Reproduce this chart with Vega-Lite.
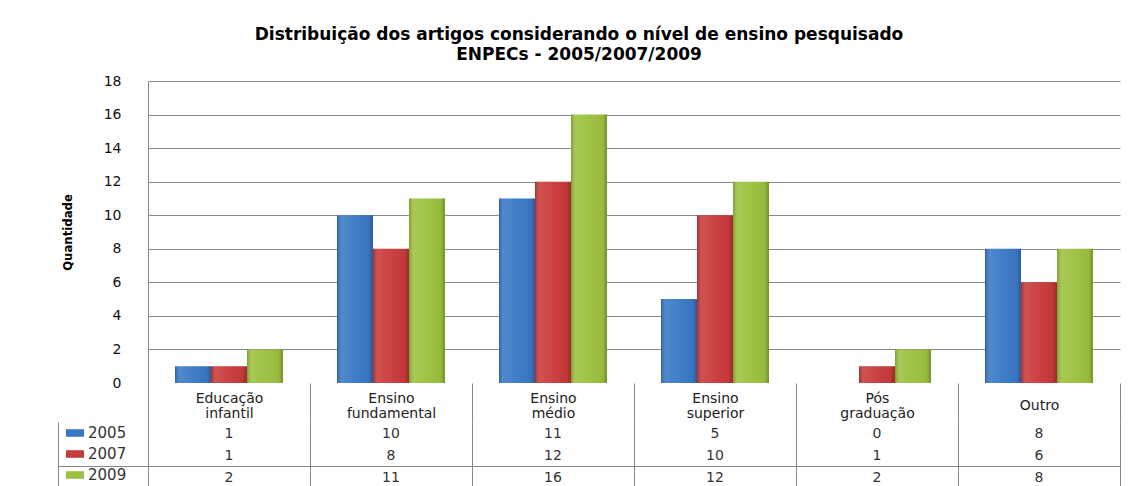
{
  "$schema": "https://vega.github.io/schema/vega-lite/v6.json",
  "background": "white",
  "padding": {"left": 57, "top": 26, "right": 12, "bottom": 0},
  "title": {
    "text": ["Distribuição dos artigos considerando o nível de ensino pesquisado", "ENPECs - 2005/2007/2009"],
    "font": "DejaVu Sans",
    "fontSize": 17,
    "fontWeight": "bold",
    "color": "#000000",
    "anchor": "middle",
    "dx": -10,
    "lineHeight": 20,
    "offset": 10
  },
  "datasets": {
    "d": [
      {"cat": "Educação infantil", "year": "2005", "value": 1},
      {"cat": "Educação infantil", "year": "2007", "value": 1},
      {"cat": "Educação infantil", "year": "2009", "value": 2},
      {"cat": "Ensino fundamental", "year": "2005", "value": 10},
      {"cat": "Ensino fundamental", "year": "2007", "value": 8},
      {"cat": "Ensino fundamental", "year": "2009", "value": 11},
      {"cat": "Ensino médio", "year": "2005", "value": 11},
      {"cat": "Ensino médio", "year": "2007", "value": 12},
      {"cat": "Ensino médio", "year": "2009", "value": 16},
      {"cat": "Ensino superior", "year": "2005", "value": 5},
      {"cat": "Ensino superior", "year": "2007", "value": 10},
      {"cat": "Ensino superior", "year": "2009", "value": 12},
      {"cat": "Pós graduação", "year": "2005", "value": 0},
      {"cat": "Pós graduação", "year": "2007", "value": 1},
      {"cat": "Pós graduação", "year": "2009", "value": 2},
      {"cat": "Outro", "year": "2005", "value": 8},
      {"cat": "Outro", "year": "2007", "value": 6},
      {"cat": "Outro", "year": "2009", "value": 8}
    ]
  },
  "data": {"name": "d"},
  "bounds": "flush",
  "spacing": 39,
  "config": {"view": {"stroke": null}, "font": "DejaVu Sans"},
  "vconcat": [
    {
      "width": 972,
      "height": 302,
      "encoding": {
        "x": {
          "field": "cat", "type": "nominal",
          "sort": ["Educação infantil", "Ensino fundamental", "Ensino médio", "Ensino superior", "Pós graduação", "Outro"],
          "axis": null,
          "scale": {"paddingInner": 0.3333, "paddingOuter": 0.1667}
        },
        "xOffset": {"field": "year", "type": "nominal", "scale": {"paddingInner": 0, "paddingOuter": 0}},
        "y": {
          "field": "value", "type": "quantitative",
          "scale": {"domain": [0, 18]},
          "axis": {
            "title": "Quantidade",
            "titleFont": "DejaVu Sans Condensed, Liberation Sans, sans-serif",
            "titleFontSize": 13,
            "titleFontWeight": "bold",
            "titleColor": "#000000",
            "titlePadding": 29,
            "values": [0, 2, 4, 6, 8, 10, 12, 14, 16, 18],
            "domain": true,
            "domainColor": "#888888",
            "ticks": false,
            "labelPadding": 27,
            "labelFont": "DejaVu Sans",
            "labelFontSize": 14,
            "labelColor": "#111111",
            "grid": true,
            "gridColor": "#888888",
            "gridOpacity": {"condition": {"test": "datum.value == 0", "value": 0}, "value": 1}
          }
        }
      },
      "layer": [
        {
          "mark": {"type": "bar"},
          "encoding": {
            "color": {
              "field": "year", "type": "nominal",
              "scale": {"domain": ["2005", "2007", "2009"], "range": ["#3A78C6", "#C93A3A", "#9BC13E"]},
              "legend": {
                "title": null,
                "orient": "none",
                "legendX": -82,
                "legendY": 343,
                "padding": 0,
                "symbolType": "M-1,-0.42H1V0.42H-1Z",
                "symbolSize": 324,
                "symbolStrokeWidth": 0,
                "labelFont": "DejaVu Sans",
                "labelFontSize": 15,
                "labelColor": "#333333",
                "labelOffset": 4,
                "rowPadding": 4
              }
            }
          }
        },
        {
          "mark": {
            "type": "bar",
            "color": {
              "gradient": "linear", "x1": 0, "x2": 1, "y1": 0, "y2": 0,
              "stops": [
                {"offset": 0, "color": "rgba(0,0,0,0.18)"},
                {"offset": 0.12, "color": "rgba(255,255,255,0.12)"},
                {"offset": 0.5, "color": "rgba(255,255,255,0.04)"},
                {"offset": 0.88, "color": "rgba(0,0,0,0.04)"},
                {"offset": 1, "color": "rgba(0,0,0,0.25)"}
              ]
            }
          }
        }
      ]
    },
    {
      "width": 972,
      "height": 65,
      "mark": {"type": "text", "font": "DejaVu Sans", "fontSize": 14, "color": "#333333", "baseline": "middle", "dy": 1},
      "encoding": {
        "x": {
          "field": "cat", "type": "nominal",
          "sort": ["Educação infantil", "Ensino fundamental", "Ensino médio", "Ensino superior", "Pós graduação", "Outro"],
          "scale": {"paddingInner": 0, "paddingOuter": 0},
          "axis": {
            "orient": "top",
            "title": null,
            "domain": false,
            "ticks": true,
            "tickSize": 39,
            "tickColor": "#888888",
            "tickBand": "extent",
            "grid": true,
            "gridColor": "#888888",
            "labelPadding": {"condition": {"test": "datum.value == 'Outro'", "value": -22}, "value": -15},
            "labelBaseline": "middle",
            "labelAngle": 0,
            "labelExpr": "split(datum.label, ' ')",
            "labelFont": "DejaVu Sans",
            "labelFontSize": 14,
            "labelLineHeight": 15,
            "labelColor": "#222222"
          }
        },
        "y": {
          "field": "year", "type": "ordinal",
          "scale": {"paddingInner": 0, "paddingOuter": 0, "range": [0, 66]},
          "axis": {
            "orient": "left",
            "title": null,
            "labels": false,
            "domain": true,
            "domainColor": "#888888",
            "offset": 90,
            "tickBand": "extent",
            "ticks": true,
            "tickSize": -1062,
            "tickColor": "#888888",
            "tickOpacity": {"condition": {"test": "datum.value == '2007'", "value": 1}, "value": 0},
            "grid": false
          }
        },
        "text": {"field": "value", "type": "quantitative"}
      }
    }
  ]
}
